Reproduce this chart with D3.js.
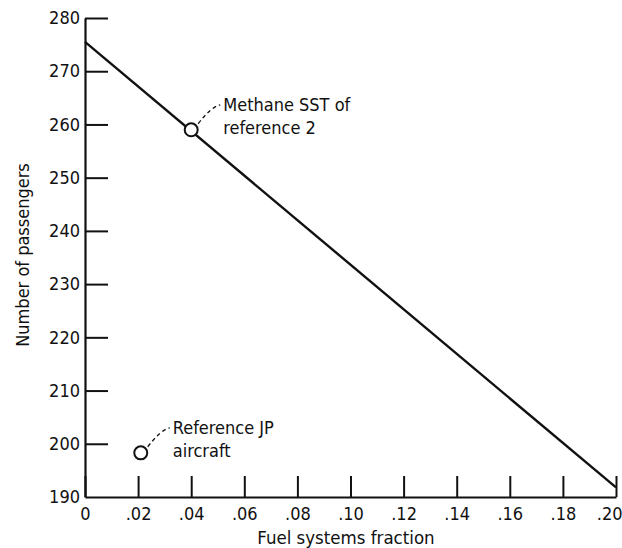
<!DOCTYPE html>
<html>
<head>
<meta charset="utf-8">
<script src="https://cdn.jsdelivr.net/npm/d3@7"></script>
<style>
	body { margin: 0; background: #fff; }
	text { font-family: "DejaVu Sans Condensed", "DejaVu Sans", sans-serif; font-stretch: condensed; fill: #111; }
</style>
</head>
<body>
<svg id="chart" width="622" height="548"></svg>
<script>
// fuel systems fraction vs number of passengers
const fractionTicks = [0, 0.02, 0.04, 0.06, 0.08, 0.10, 0.12, 0.14, 0.16, 0.18, 0.20]
const passengerTicks = [190, 200, 210, 220, 230, 240, 250, 260, 270, 280]

// the trade line
const lineFraction = [0, 0.20]
const linePassengers = [275.5, 191.8]

// the two marked aircraft
const pointNames = [["Methane SST of", "reference 2"], ["Reference JP", "aircraft"]]
const pointFraction = [0.04, 0.021]
const pointPassengers = [259.0, 198.3]

var svg = d3.select("#chart"),
	mLeft = 85, mRight = 616, mTop = 18, mBottom = 497

var xScale = d3.scaleLinear().domain([0, 0.20]).range([mLeft, mRight]),
	yScale = d3.scaleLinear().domain([190, 280]).range([mBottom, mTop])

var fmt = function(d) { return d === 0 ? "0" : d3.format(".2f")(d).replace(/^0/, "") }

// x axis, ticks pointing up into the plot
var gx = svg.append("g")
	.attr("transform", "translate(0," + mBottom + ")")
	.call(d3.axisBottom(xScale).tickValues(fractionTicks).tickFormat(fmt)
		.tickSizeInner(-21).tickSizeOuter(0).tickPadding(8))
gx.select(".domain").attr("stroke", "#111").attr("stroke-width", 2.2)
gx.selectAll(".tick line").attr("stroke", "#111").attr("stroke-width", 2)
gx.selectAll(".tick text").attr("font-size", "18px").attr("dy", "0.95em")
	.attr("y", 6)
	.attr("text-anchor", function(d) { return d === 0.20 ? "end" : "middle" })
	.attr("dx", function(d) { return d === 0.20 ? 6 : 0 })

// y axis, ticks pointing right
var gy = svg.append("g")
	.attr("transform", "translate(" + mLeft + ",0)")
	.call(d3.axisLeft(yScale).tickValues(passengerTicks)
		.tickSizeInner(-23).tickSizeOuter(0).tickPadding(5))
gy.select(".domain").attr("stroke", "#111").attr("stroke-width", 2.2)
gy.selectAll(".tick line").attr("stroke", "#111").attr("stroke-width", 2)
	.filter(function(d) { return d === 190 }).remove()
gy.selectAll(".tick text").attr("font-size", "18px")

svg.append("text")
	.attr("transform", "translate(29,255) rotate(-90)")
	.attr("text-anchor", "middle")
	.attr("font-size", "18px")
	.text("Number of passengers")

svg.append("text")
	.attr("x", 346)
	.attr("y", 544)
	.attr("text-anchor", "middle")
	.attr("font-size", "18.5px")
	.text("Fuel systems fraction")

// trade line
var line = d3.line()
	.x(function(d, i) { return xScale(lineFraction[i]) })
	.y(function(d) { return yScale(d) })
svg.append("path")
	.datum(linePassengers)
	.attr("d", line)
	.attr("fill", "none")
	.attr("stroke", "#111")
	.attr("stroke-width", 2.4)

// points with dashed leaders
pointFraction.forEach(function(f, i) {
	var cx = xScale(f), cy = yScale(pointPassengers[i])
	var tx = cx + 32, ty = cy - 19
	svg.append("path")
		.attr("d", "M" + (cx + 7) + "," + (cy - 6) + " Q" + (cx + 20) + "," + (ty - 4) + " " + (tx - 3) + "," + (ty - 6))
		.attr("fill", "none")
		.attr("stroke", "#111")
		.attr("stroke-width", 1.3)
		.attr("stroke-dasharray", "4,3")
	svg.append("circle")
		.attr("cx", cx).attr("cy", cy).attr("r", 6.5)
		.attr("fill", "#fff")
		.attr("stroke", "#111")
		.attr("stroke-width", 2)
	pointNames[i].forEach(function(s, j) {
		svg.append("text")
			.attr("x", tx)
			.attr("y", ty + j * 23)
			.attr("font-size", "18px")
			.text(s)
	})
})
</script>
</body>
</html>
